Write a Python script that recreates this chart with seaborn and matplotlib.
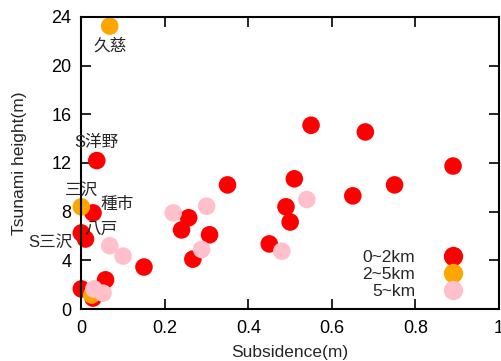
import pandas as pd
import seaborn as sns
import matplotlib.pyplot as plt

# 0~2km
near_x = [0.037, 0.028, 0.0, 0.01, 0.0, 0.058, 0.028, 0.15, 0.257, 0.24, 0.307,
          0.267, 0.35, 0.55, 0.68, 0.89, 0.51, 0.75, 0.65, 0.49, 0.50, 0.45]
near_y = [12.2, 7.9, 6.25, 5.75, 1.65, 2.4, 0.9, 3.45, 7.5, 6.5, 6.1,
          4.1, 10.2, 15.1, 14.55, 11.75, 10.7, 10.2, 9.3, 8.4, 7.15, 5.35]
# 2~5km
mid_x = [0.068, 0.0, 0.025]
mid_y = [23.25, 8.4, 1.15]
# 5~km
far_x = [0.54, 0.48, 0.22, 0.30, 0.288, 0.068, 0.10, 0.03, 0.052]
far_y = [9.0, 4.75, 7.9, 8.45, 4.9, 5.2, 4.35, 1.65, 1.3]

zones = ['0~2km', '2~5km', '5~km']
colors = ['#ff0000', '#ffa500', '#ffc0cb']

place_names = ['久慈', 'S洋野', '三沢', '種市', '八戸', 'S三沢']
place_x = [0.068, 0.037, 0.0, 0.028, 0.01, 0.0]
place_y = [23.25, 12.2, 8.4, 7.9, 5.75, 6.25]
place_dx = [0, 0, 0, 17, 11, -22]
place_dy = [-14, 13, 12, 6, 7, -6.5]


def main() -> None:
    df = pd.DataFrame({
        'x': near_x + mid_x + far_x,
        'y': near_y + mid_y + far_y,
        'zone': [zones[0]] * len(near_x) + [zones[1]] * len(mid_x) + [zones[2]] * len(far_x),
    })

    sns.set_style('ticks')
    plt.rcParams['font.family'] = ['Liberation Sans', 'Noto Sans CJK JP']

    fig = plt.figure(figsize=(5.02, 3.61), dpi=100)
    ax = fig.add_axes([0.162, 0.144, 0.832, 0.809])

    sns.scatterplot(
        data=df, x='x', y='y', hue='zone', hue_order=zones,
        palette=colors, s=160, linewidth=0, ax=ax, clip_on=False
    )

    for name, px, py, dx, dy in zip(place_names, place_x, place_y, place_dx, place_dy):
        ax.annotate(name, (px, py), xytext=(dx, dy), textcoords='offset points',
                    ha='center', va='center', fontsize=12)

    ax.set_xlim(0, 1)
    ax.set_ylim(0, 24)
    ax.set_xticks([0, 0.2, 0.4, 0.6, 0.8, 1])
    ax.set_xticklabels(['0', '0.2', '0.4', '0.6', '0.8', '1'])
    ax.set_yticks([0, 4, 8, 12, 16, 20, 24])
    ax.tick_params(direction='in', length=7, width=1.2, top=True, right=True,
                   labelsize=13, colors='black')
    ax.tick_params(axis='x', pad=8)
    ax.tick_params(axis='y', pad=7)
    for sp in ax.spines.values():
        sp.set_visible(True)
        sp.set_linewidth(1.5)
        sp.set_color('black')

    ax.set_xlabel('Subsidence(m)', fontsize=12.5, va='center')
    ax.set_ylabel('Tsunami height(m)', fontsize=12.5, va='center')
    ax.xaxis.set_label_coords(0.5, -0.15)
    ax.yaxis.set_label_coords(-0.147, 0.5)

    ax.legend(title=None, loc='lower right', bbox_to_anchor=(0.97, -0.02),
              frameon=False, markerfirst=False, fontsize=12.5,
              handletextpad=1.2, labelspacing=0.1, markerscale=1.1)

    fig.savefig('out.png', dpi=100)


if __name__ == '__main__':
    main()
